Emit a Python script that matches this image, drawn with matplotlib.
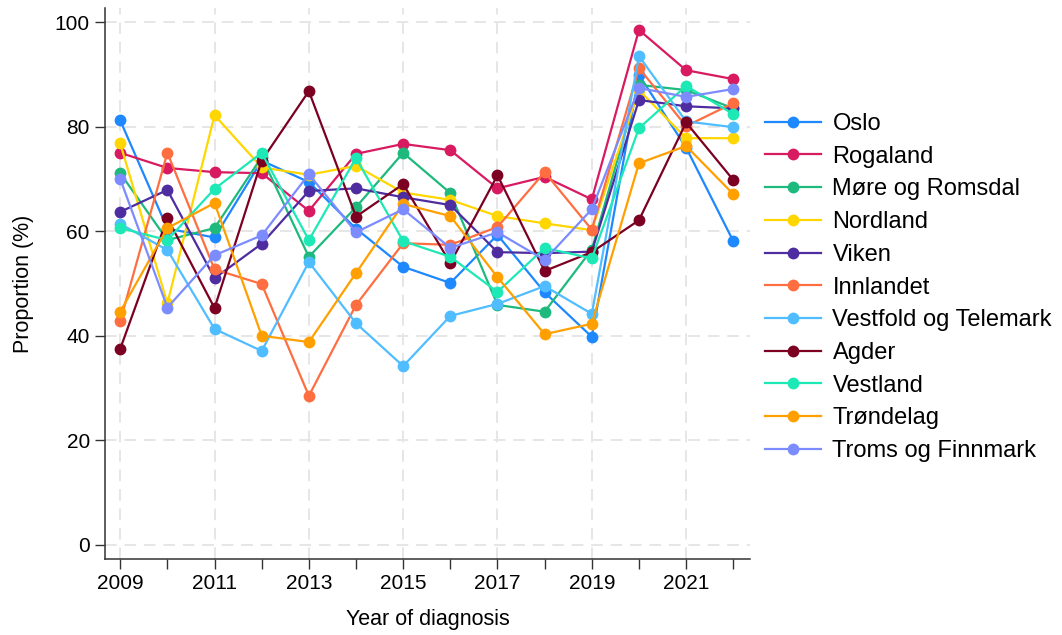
import matplotlib
matplotlib.use("Agg")
import matplotlib.pyplot as plt
from matplotlib import font_manager

# ── Data ────────────────────────────────────────────────────────────────────
years = list(range(2009, 2023))

regions = ["Oslo", "Rogaland", "Møre og Romsdal", "Nordland", "Viken", "Innlandet",
           "Vestfold og Telemark", "Agder", "Vestland", "Trøndelag", "Troms og Finnmark"]

oslo      = [81.2, 60.5, 58.8, 73.5, 69.4, 60.5, 53.2, 50.1, 59.3, 48.3, 39.8, 89.9, 76.0, 58.1]
rogaland  = [75.0, 72.1, 71.3, 71.1, 63.9, 74.8, 76.7, 75.5, 68.2, 70.4, 66.1, 98.5, 90.8, 89.1]
more      = [71.1, 58.3, 60.6, 74.2, 55.1, 64.6, 75.0, 67.3, 45.9, 44.6, 56.5, 88.0, 87.0, 83.5]
nordland  = [76.8, 46.2, 82.2, 72.2, 70.8, 72.5, 67.4, 66.0, 62.9, 61.5, 60.2, 87.0, 77.8, 77.8]
viken     = [63.7, 67.9, 51.0, 57.6, 67.7, 68.2, 66.5, 65.0, 56.0, 55.8, 56.1, 85.1, 83.9, 83.5]
innlandet = [42.8, 75.0, 52.7, 49.9, 28.5, 45.9, 57.7, 57.4, 60.8, 71.3, 60.3, 91.2, 80.1, 84.5]
vestfold  = [61.4, 56.4, 41.3, 37.1, 54.1, 42.4, 34.2, 43.8, 46.1, 49.5, 44.2, 93.5, 81.0, 79.9]
agder     = [37.5, 62.5, 45.3, 73.5, 86.8, 62.8, 69.0, 53.9, 70.7, 52.4, 56.0, 62.1, 80.8, 69.8]
vestland  = [60.6, 58.3, 68.1, 75.0, 58.3, 74.0, 58.1, 55.1, 48.4, 56.8, 54.8, 79.7, 87.8, 82.4]
trondelag = [44.6, 60.6, 65.4, 40.0, 38.8, 52.0, 65.2, 62.9, 51.2, 40.3, 42.3, 73.0, 76.3, 67.1]
troms     = [70.0, 45.4, 55.4, 59.2, 70.9, 59.8, 64.2, 56.8, 59.8, 54.5, 64.2, 87.4, 85.7, 87.2]

series = [oslo, rogaland, more, nordland, viken, innlandet, vestfold, agder, vestland, trondelag, troms]

colors = ["#1E88FF", "#D81B60", "#1DB97D", "#FFD600", "#4E2DA0", "#FF6E40",
          "#4FBDFF", "#7B0022", "#1DE9B6", "#FFA000", "#7C8CFF"]

x_ticks = years
x_labels = [str(y) if y % 2 == 1 else "" for y in years]
y_ticks = [0, 20, 40, 60, 80, 100]

# ── Fonts ───────────────────────────────────────────────────────────────────
names = {f.name for f in font_manager.fontManager.ttflist}
narrow = "Liberation Sans Narrow" if "Liberation Sans Narrow" in names else "Liberation Sans"
plt.rcParams["font.family"] = ["Liberation Sans", "DejaVu Sans"]

# ── Plot ────────────────────────────────────────────────────────────────────
fig = plt.figure(figsize=(10.62, 6.35), dpi=100)
ax = fig.add_axes([0.099, 0.1197, 0.607, 0.8677])

for vals, name, c in zip(series, regions, colors):
    ax.plot(years, vals, color=c, linewidth=1.6, marker="o", markersize=8.5,
            markeredgewidth=0, label=name, zorder=3)

ax.set_xlim(2008.68, 2022.35)
ax.set_ylim(-2.7, 102.7)
ax.set_xticks(x_ticks)
ax.set_xticklabels(x_labels, fontsize=15, family=narrow)
ax.set_yticks(y_ticks)
ax.set_yticklabels([str(v) for v in y_ticks], fontsize=15, family=narrow)
ax.tick_params(axis="both", direction="out", length=7, width=1, color="#333333", pad=4)

for v in y_ticks:
    ax.axhline(v, color="#E6E6E6", linestyle=(0, (6, 4)), linewidth=1.4, zorder=1)
for y in years[::2]:
    ax.axvline(y, color="#E6E6E6", linestyle=(0, (6, 4)), linewidth=1.4, zorder=1)

for side in ["top", "right"]:
    ax.spines[side].set_visible(False)
for side in ["left", "bottom"]:
    ax.spines[side].set_color("#333333")
    ax.spines[side].set_linewidth(1.1)

ax.set_xlabel("Year of diagnosis", fontsize=15.5, family=narrow, labelpad=11)
ax.set_ylabel("Proportion (%)", fontsize=15.5, family=narrow, labelpad=15)

ax.legend(loc="upper left", bbox_to_anchor=(0.7205, 0.822), bbox_transform=fig.transFigure,
          frameon=False, fontsize=17, handlelength=2.35, handletextpad=0.5,
          labelspacing=0.453, borderaxespad=0, borderpad=0)

fig.savefig("out.png", dpi=100)
